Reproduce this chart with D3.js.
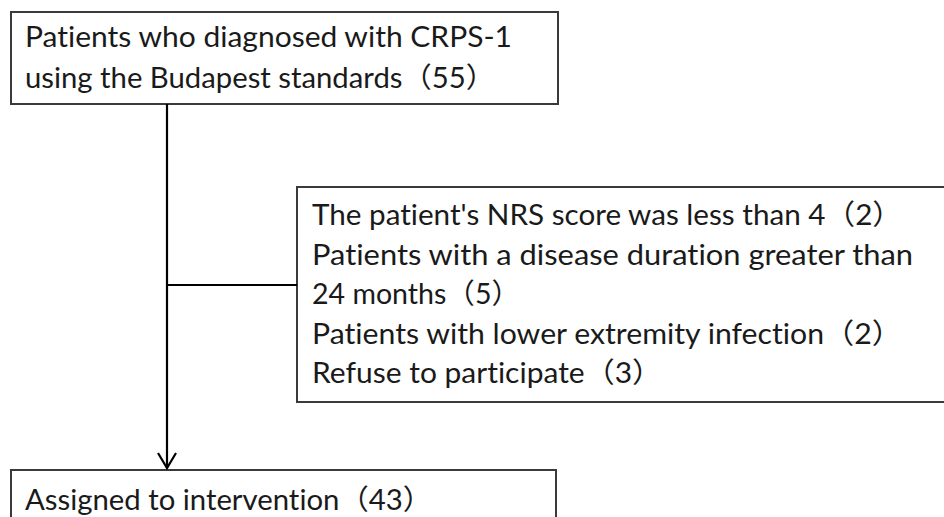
<!DOCTYPE html>
<html>
<head>
<meta charset="utf-8">
<script src="https://cdn.jsdelivr.net/npm/d3@7"></script>
<style>
  html, body { margin: 0; padding: 0; background: #fff; }
  svg { display: block; }
  text { font-family: Lato, "Noto Sans", "Noto Sans CJK SC", sans-serif; fill: #1a1a1a; font-variant-ligatures: none; }
</style>
</head>
<body>
<svg id="chart" width="944" height="517"></svg>
<script>
// ---- data ----
const stageLabels = ["Patients who diagnosed with CRPS-1\nusing the Budapest standards", "Assigned to intervention"];
const stageCounts = [55, 43];
const exclusionLabels = [
  "The patient's NRS score was less than 4",
  "Patients with a disease duration greater than\n24 months",
  "Patients with lower extremity infection",
  "Refuse to participate"
];
const exclusionCounts = [2, 5, 2, 3];

// ---- layout ----
const svg = d3.select("#chart");
const fontSize = 28;

function lines(label, count) {
  const parts = label.split("\n");
  parts[parts.length - 1] += "（" + count + "）";
  return parts;
}

const topLines = lines(stageLabels[0], stageCounts[0]);
const bottomLines = lines(stageLabels[1], stageCounts[1]);
const exclLines = exclusionLabels.flatMap((l, i) => lines(l, exclusionCounts[i]));

const boxes = [
  {x: 11, y: 12, w: 547, h: 92, tx: 25, baselines: [47, 88], widths: [487, 470], lines: topLines},
  {x: 297, y: 187, w: 680, h: 215, tx: 312, baselines: d3.range(exclLines.length).map(i => 225 + i * 39.5), widths: [590, 601, 208, 590, 350], lines: exclLines},
  {x: 11, y: 470, w: 545, h: 80, tx: 25, baselines: [510], widths: [407], lines: bottomLines}
];

const g = svg.append("g");

g.selectAll("rect.box").data(boxes).join("rect")
  .attr("class", "box")
  .attr("x", d => d.x).attr("y", d => d.y)
  .attr("width", d => d.w).attr("height", d => d.h)
  .attr("fill", "none").attr("stroke", "#3a3a3a").attr("stroke-width", 2);

boxes.forEach(b => {
  g.selectAll(null).data(b.lines).join("text")
    .attr("x", b.tx)
    .attr("y", (d, i) => b.baselines[i])
    .attr("font-size", fontSize)
    .attr("textLength", (d, i) => b.widths[i])
    .attr("lengthAdjust", "spacingAndGlyphs")
    .text(d => d);
});

// connectors
const trunkX = 167;
const line = d3.line();
g.append("path").attr("d", line([[trunkX, 104], [trunkX, 468]]))
  .attr("stroke", "#000").attr("stroke-width", 2.2).attr("fill", "none");
g.append("path").attr("d", line([[trunkX, 285], [297, 285]]))
  .attr("stroke", "#000").attr("stroke-width", 2.2).attr("fill", "none");
g.append("path").attr("d", line([[trunkX - 9, 453], [trunkX, 468], [trunkX + 9, 453]]))
  .attr("stroke", "#000").attr("stroke-width", 2.2).attr("fill", "none");
</script>
</body>
</html>
